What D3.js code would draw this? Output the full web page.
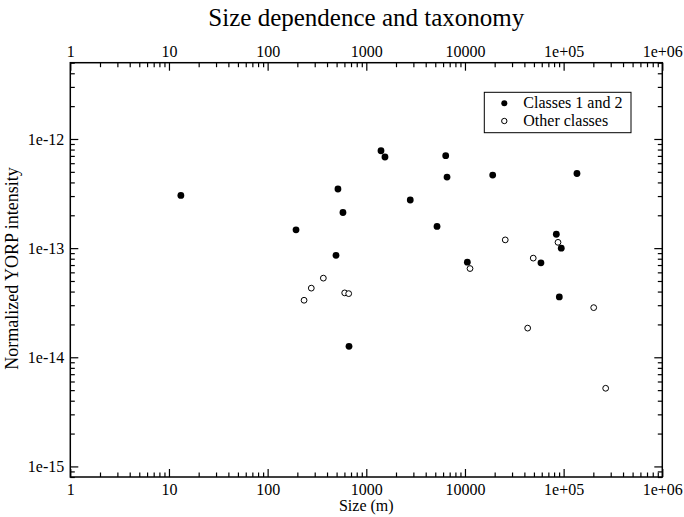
<!DOCTYPE html>
<html>
<head>
<meta charset="utf-8">
<script src="https://cdn.jsdelivr.net/npm/d3@7"></script>
<style>
  html, body { margin: 0; padding: 0; background: #fff; }
  svg { display: block; }
  svg text { font-family: "Liberation Serif", "DejaVu Serif", serif !important; fill: #000; }
</style>
</head>
<body>
<svg id="chart" width="684" height="517"></svg>
<script>
// ---- data ----
const classes12Size = [13.2, 194, 516, 580, 493, 668, 1409, 1546, 2790, 6380, 6580, 5210, 10570, 19100, 84300, 94600, 58900, 90400, 136500];
const classes12Yorp = [3.04e-13, 1.47e-13, 3.48e-13, 2.12e-13, 8.6e-14, 1.26e-14, 7.8e-13, 6.84e-13, 2.76e-13, 7.03e-13, 4.48e-13, 1.58e-13, 7.44e-14, 4.67e-13, 1.34e-13, 1.0e-13, 7.33e-14, 3.57e-14, 4.83e-13];
const otherSize = [234, 277, 367, 604, 663, 11250, 25600, 49200, 87700, 43200, 201700, 266700];
const otherYorp = [3.33e-14, 4.30e-14, 5.31e-14, 3.89e-14, 3.83e-14, 6.5e-14, 1.19e-13, 8.1e-14, 1.13e-13, 1.85e-14, 2.85e-14, 5.2e-15];

const xTickValues = [1, 10, 100, 1000, 10000, 1e5, 1e6];
const xTickLabels = ["1", "10", "100", "1000", "10000", "1e+05", "1e+06"];
const yTickValues = [1e-15, 1e-14, 1e-13, 1e-12];
const yTickLabels = ["1e-15", "1e-14", "1e-13", "1e-12"];
const seriesNames = ["Classes 1 and 2", "Other classes"];
const titleText = "Size dependence and taxonomy";
const xTitle = "Size (m)";
const yTitle = "Normalized YORP intensity";

// ---- layout ----
const L = 70.3, R = 662.3, T = 62.7, B = 477;
const SERIF = "'Liberation Serif', 'DejaVu Serif', serif";
const svg = d3.select("#chart");

const x = d3.scaleLog().domain([1, 1e6]).range([L, R]);
const y = d3.scaleLog().domain([8e-16, 5e-12]).range([B, T]);

function minorTicks(domain) {
  const out = [];
  const lo = Math.floor(Math.log10(domain[0])), hi = Math.ceil(Math.log10(domain[1]));
  for (let e = lo; e <= hi; e++) {
    for (let m = 2; m <= 9; m++) {
      const v = m * Math.pow(10, e);
      if (v >= domain[0] * 0.999 && v <= domain[1] * 1.001) out.push(v);
    }
  }
  return out;
}
const xMinor = minorTicks(x.domain());
const yMinor = minorTicks(y.domain());

const fmtX = d => xTickLabels[xTickValues.indexOf(d)];
const fmtY = d => yTickLabels[yTickValues.indexOf(d)];

function styleAxis(g) {
  g.attr("font-family", SERIF).attr("font-size", 16);
  g.select(".domain").remove();
  g.selectAll(".tick line").attr("stroke", "#000").attr("stroke-width", 1.2);
  g.selectAll(".tick text").style("font-family", SERIF).style("font-size", "16px").attr("fill", "#000");
}

const MAJ = 8, MIN = 4.5;
// bottom
svg.append("g").attr("transform", `translate(0,${B})`)
  .call(d3.axisBottom(x).tickValues(xTickValues).tickFormat(fmtX).tickSizeInner(-MAJ).tickSizeOuter(0).tickPadding(7))
  .call(styleAxis);
svg.append("g").attr("transform", `translate(0,${B})`)
  .call(d3.axisBottom(x).tickValues(xMinor).tickFormat("").tickSizeInner(-MIN).tickSizeOuter(0))
  .call(styleAxis);
// top
svg.append("g").attr("transform", `translate(0,${T})`)
  .call(d3.axisTop(x).tickValues(xTickValues).tickFormat(fmtX).tickSizeInner(-MAJ).tickSizeOuter(0).tickPadding(6))
  .call(styleAxis);
svg.append("g").attr("transform", `translate(0,${T})`)
  .call(d3.axisTop(x).tickValues(xMinor).tickFormat("").tickSizeInner(-MIN).tickSizeOuter(0))
  .call(styleAxis);
// left
svg.append("g").attr("transform", `translate(${L},0)`)
  .call(d3.axisLeft(y).tickValues(yTickValues).tickFormat(fmtY).tickSizeInner(-MAJ).tickSizeOuter(0).tickPadding(6))
  .call(styleAxis);
svg.append("g").attr("transform", `translate(${L},0)`)
  .call(d3.axisLeft(y).tickValues(yMinor).tickFormat("").tickSizeInner(-MIN).tickSizeOuter(0))
  .call(styleAxis);
// right
svg.append("g").attr("transform", `translate(${R},0)`)
  .call(d3.axisRight(y).tickValues(yTickValues).tickFormat("").tickSizeInner(-MAJ).tickSizeOuter(0))
  .call(styleAxis);
svg.append("g").attr("transform", `translate(${R},0)`)
  .call(d3.axisRight(y).tickValues(yMinor).tickFormat("").tickSizeInner(-MIN).tickSizeOuter(0))
  .call(styleAxis);

// frame
svg.append("rect").attr("x", L).attr("y", T).attr("width", R - L).attr("height", B - T)
  .attr("fill", "none").attr("stroke", "#000").attr("stroke-width", 1.5);

// points
const filled = classes12Size.map((s, i) => ({ s, v: classes12Yorp[i] }));
const open = otherSize.map((s, i) => ({ s, v: otherYorp[i] }));

svg.append("g").selectAll("circle").data(filled).join("circle")
  .attr("cx", d => x(d.s)).attr("cy", d => y(d.v)).attr("r", 3.4)
  .attr("fill", "#000");
svg.append("g").selectAll("circle").data(open).join("circle")
  .attr("cx", d => x(d.s)).attr("cy", d => y(d.v)).attr("r", 2.9)
  .attr("fill", "#fff").attr("stroke", "#000").attr("stroke-width", 1);

// title
svg.append("text").attr("x", (L + R) / 2).attr("y", 26).attr("text-anchor", "middle")
  .style("font-size", "25px").text(titleText);
// axis titles
svg.append("text").attr("x", (L + R) / 2).attr("y", 511).attr("text-anchor", "middle")
  .style("font-size", "16px").text(xTitle);
svg.append("text").attr("transform", `translate(18,268.5) rotate(-90)`)
  .attr("text-anchor", "middle").style("font-size", "18px").text(yTitle);

// legend
const lg = svg.append("g");
lg.append("rect").attr("x", 484.3).attr("y", 92.3).attr("width", 146.7).attr("height", 40.4)
  .attr("fill", "#fff").attr("stroke", "#000").attr("stroke-width", 1);
lg.append("circle").attr("cx", 504.3).attr("cy", 103.3).attr("r", 3).attr("fill", "#000");
lg.append("circle").attr("cx", 504.3).attr("cy", 121).attr("r", 2.7).attr("fill", "#fff").attr("stroke", "#000").attr("stroke-width", 1);
lg.append("text").attr("x", 523.3).attr("y", 108).style("font-size", "16px").text(seriesNames[0]);
lg.append("text").attr("x", 523.3).attr("y", 126).style("font-size", "16px").text(seriesNames[1]);
</script>
</body>
</html>
